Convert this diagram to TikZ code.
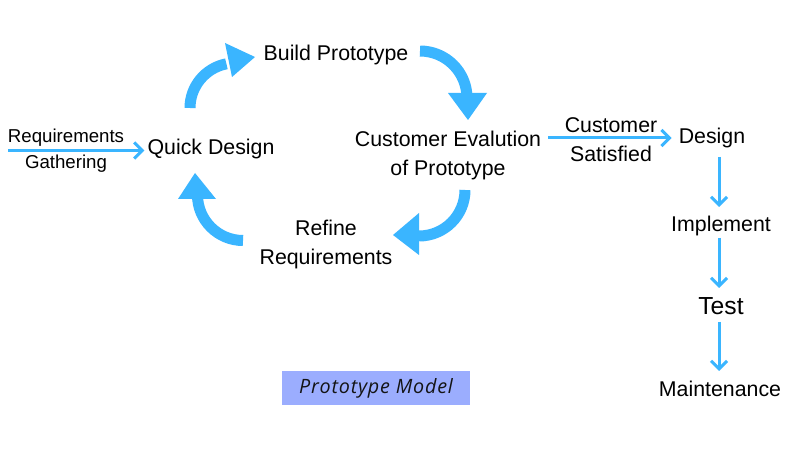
\documentclass[tikz,border=0pt]{standalone}
\usepackage{fontspec}
\setmainfont{Liberation Sans}
\newfontfamily\labelfont[LetterSpace=4]{Open Sans}
\usetikzlibrary{arrows.meta}
\definecolor{sky}{HTML}{3AB5FF}
\definecolor{boxblue}{HTML}{9BADFE}
\begin{document}
\begin{tikzpicture}[x=0.75pt,y=0.75pt,
  txt/.style={inner sep=0pt, align=center, font=\fontsize{16}{21.75}\selectfont},
  smalltxt/.style={inner sep=0pt, align=center, font=\fontsize{14}{19.5}\selectfont},
  band/.style={draw=sky, line width=8.25pt, line cap=butt},
  head/.style={fill=sky},
  thinarr/.style={draw=sky, line width=2.25pt, -{Straight Barb[length=6pt,width=12pt,line width=2.25pt]}}]
\useasboundingbox[fill=white] (0,0) rectangle (800,450);

% nodes
\node[smalltxt] (req) at (66,299) {Requirements\\Gathering};
\node[txt] (qd) at (211,301) {Quick Design};
\node[txt] (build) at (336,395) {Build Prototype};
\node[txt] (eval) at (448,294.5) {Customer Evalution\\of Prototype};
\node[txt] (refine) at (326,205.5) {Refine\\Requirements};
\node[txt] (sat) at (611,310.5) {Customer\\Satisfied};
\node[txt] (design) at (712,312) {Design};
\node[txt] (impl) at (721,224) {Implement};
\node[inner sep=0pt, font=\fontsize{18.5}{20}\selectfont] (test) at (721,144) {Test};
\node[txt] (maint) at (720,61) {Maintenance};
\node[fill=boxblue, minimum width=141pt, minimum height=25.5pt, inner sep=0pt,
      font=\labelfont\itshape\fontsize{14.8}{16}\selectfont, text=black!92] (pm) at (376,62) {Prototype Model};

% thin connectors
\coordinate (reqstart) at (8,299.5);
\draw[thinarr, shorten >=2.25pt] (reqstart) -- (reqstart -| qd.west);
\draw[thinarr, shorten <=5.25pt, shorten >=5.25pt] (eval.east |- design.west) -- (design.west);
\coordinate (c1) at (719,293);
\coordinate (c2) at (719,243);
\draw[thinarr] (c1) -- (c2);
\coordinate (c3) at (719,212);
\coordinate (c4) at (719,162);
\draw[thinarr] (c3) -- (c4);
\coordinate (c5) at (719,128);
\coordinate (c6) at (719,79);
\draw[thinarr] (c5) -- (c6);

% big curved arrows
\draw[band] (190,342) arc[start angle=180, end angle=101, radius=45];
\fill[head] (225,407) -- (255,393) -- (232,373) -- cycle;

\draw[band] (420,399) arc[start angle=90, end angle=0, radius=47];
\fill[head] (448,357) -- (487,357) -- (468,330) -- cycle;

\draw[band] (465,260) arc[start angle=0, end angle=-90, radius=46];
\fill[head] (419,237) -- (419,195) -- (393,215) -- cycle;

\draw[band] (243,209.5) arc[start angle=270, end angle=180, radius=45.5];
\fill[head] (178,251) -- (216,251) -- (195,277) -- cycle;
\end{tikzpicture}
\end{document}
